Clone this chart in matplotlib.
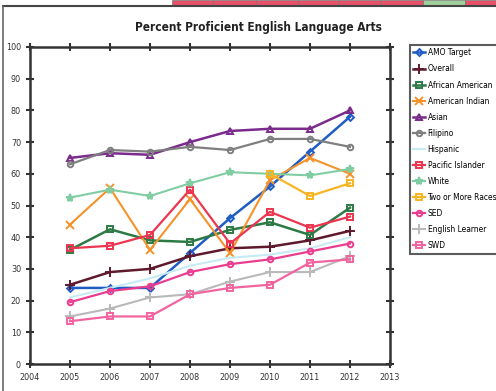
import matplotlib.pyplot as plt
import numpy as np
from matplotlib.patches import Rectangle
from matplotlib.font_manager import FontProperties

years = [2005, 2006, 2007, 2008, 2009, 2010, 2011, 2012]
nan = np.nan

amo_target = [24, 24, 24, 35, 46, 56, 67, 78]
overall = [25, 29, 30, 34, 36.5, 37, 39, 42]
african_american = [36, 42.5, 39, 38.5, 42.3, 44.7, 40.7, 49.3]
american_indian = [44, 55.5, 36, 52, 35, 58, 65, 60]
asian = [65, 66.5, 66, 70, 73.5, 74.2, 74.2, 80]
filipino = [63, 67.5, 67, 68.5, 67.5, 71, 71, 68.5]
hispanic = [21, 24, 27, 31, 33.5, 34.5, 36.5, 40]
pacific_islander = [36.5, 37.3, 40.7, 55, 38, 48, 43, 46.5]
white = [52.5, 55, 53, 57, 60.5, 60, 59.5, 61.5]
two_or_more = [nan, nan, nan, nan, nan, 60, 53, 57]
sed = [19.5, 23, 24.5, 29, 31.5, 33, 35.5, 38]
english_learner = [15, 17.5, 21, 22, 26, 29, 29, 34]
swd = [13.5, 15, 15, 22, 24, 25, 32, 33]

# table cells left over at the top of the page
cell_edges = [172, 213, 256, 298, 339, 380, 423, 465, 496]
cell_colors = ['#e8506a'] * 6 + ['#9fcf9a', '#e8506a']

W, H = 496, 391
fig = plt.figure(figsize=(W / 100, H / 100), dpi=100)

for i, c in enumerate(cell_colors):
    x0 = cell_edges[i]
    fig.patches.append(Rectangle((x0 / W, 1 - 6 / H), (cell_edges[i + 1] - x0) / W, 6 / H,
                                 transform=fig.transFigure, facecolor=c, edgecolor='#777777', lw=0.5))
fig.add_artist(plt.Line2D([3 / W, 1], [1 - 6 / H, 1 - 6 / H], transform=fig.transFigure, color='#444444', lw=1.5))
fig.add_artist(plt.Line2D([3 / W, 3 / W], [0, 1 - 6 / H], transform=fig.transFigure, color='#666666', lw=1.2))

ax = fig.add_axes([30 / W, 1 - 364 / H, 360 / W, 317 / H])

series = [
    ('AMO Target', amo_target, '#1f5cc4', 'D', 3.5, 1.8),
    ('Overall', overall, '#5e1a2c', '+', 7, 1.8),
    ('African American', african_american, '#2d7a45', 's', 4, 1.8),
    ('American Indian', american_indian, '#f5922a', 'x', 6, 1.5),
    ('Asian', asian, '#7a2b8c', '^', 4, 1.8),
    ('Filipino', filipino, '#7f7f7f', 'o', 4, 1.6),
    ('Hispanic', hispanic, '#c7ebf4', '', 0, 1.5),
    ('Pacific Islander', pacific_islander, '#ec3550', 's', 4, 1.6),
    ('White', white, '#80cda3', '*', 6, 1.5),
    ('Two or More Races', two_or_more, '#f7b523', 's', 4, 1.6),
    ('SED', sed, '#ea3d8f', 'o', 4, 1.6),
    ('English Learner', english_learner, '#b9b9b9', '+', 7, 1.5),
    ('SWD', swd, '#f2649f', 's', 4, 1.6),
]

for name, vals, col, mk, ms, lw in series:
    ax.plot(years, vals, color=col, lw=lw, marker=mk, ms=ms, mfc='none' if mk in 'sDo^' else col,
            mec=col, mew=1.4, label=name)

ax.set_xlim(2004, 2013)
ax.set_ylim(0, 100)
ax.set_xticks(range(2004, 2014))
ax.set_yticks(range(0, 101, 10))
ax.tick_params(direction='inout', length=6, width=1.5, labelsize=6.5, colors='#333333',
               top=True, right=True)
for lab in ax.get_xticklabels() + ax.get_yticklabels():
    lab.set_fontstretch('condensed')
for s in ax.spines.values():
    s.set_linewidth(1.8)
    s.set_color('#333333')

fig.text(258 / W, 1 - 28 / H, 'Percent Proficient English Language Arts', ha='center', va='center',
         fontsize=8.5, fontweight='bold', fontstretch='condensed', color='#222222')

leg_font = FontProperties(family='DejaVu Sans', stretch='condensed', size=6)
leg = ax.legend(loc='upper left', bbox_to_anchor=(410 / W, 1 - 45 / H), bbox_transform=fig.transFigure,
                frameon=True, fancybox=False, prop=leg_font, handlelength=1.4, handletextpad=0.3,
                labelspacing=0.85, borderpad=0.4, borderaxespad=0)
leg.get_frame().set_edgecolor('#333333')
leg.get_frame().set_linewidth(1.5)

fig.savefig('out.png', dpi=100)
